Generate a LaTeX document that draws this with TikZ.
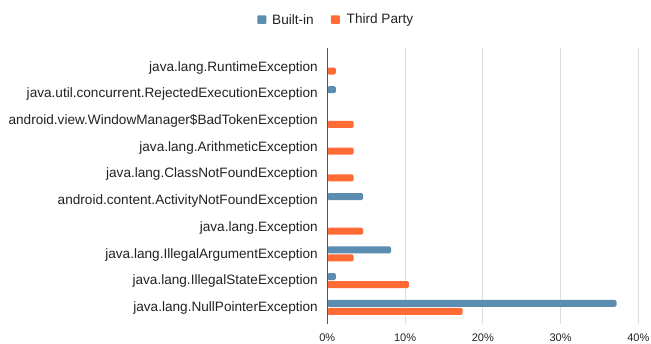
\documentclass[tikz,border=0pt]{standalone}
\usepackage{fontspec}
\setmainfont{Liberation Sans}
\definecolor{builtin}{HTML}{5B8DB0}
\definecolor{third}{HTML}{FF6B35}
\definecolor{gridc}{HTML}{DDDDDD}
\definecolor{axisc}{HTML}{555555}
\definecolor{txt}{HTML}{222222}
\tikzset{
  gridline/.style={draw=gridc, line width=1pt},
  axisline/.style={draw=axisc, line width=1pt},
  catlabel/.style={anchor=east, inner sep=0pt, text=txt, font=\fontsize{13.6}{16}\selectfont},
  ticklabel/.style={anchor=center, inner sep=0pt, text=txt, font=\fontsize{11}{13}\selectfont},
  legendlabel/.style={anchor=west, inner sep=0pt, text=txt, font=\fontsize{13.6}{16}\selectfont},
  barB/.style={fill=builtin, rounded corners=1.5pt},
  barT/.style={fill=third, rounded corners=1.5pt},
}
\begin{document}
\begin{tikzpicture}[x=1pt,y=-1pt]
\useasboundingbox (0,0) rectangle (651,343);
\fill[white] (0,0) rectangle (651,343);
% grid lines
\foreach \p in {1,2,3,4}
  \draw[gridline] ({327.3+77.75*\p},48) -- ({327.3+77.75*\p},324);
% tick labels
\foreach \p/\t in {0/0\%,1/10\%,2/20\%,3/30\%,4/40\%}
  \node[ticklabel] (tick\p) at ({327.3+77.75*\p},338) {\t};
% bars and category labels
\foreach \i/\lab/\b/\t in {
  0/java.lang.RuntimeException/0/1.1,
  1/java.util.concurrent.RejectedExecutionException/1.1/0,
  2/android.view.WindowManager\$BadTokenException/0/3.4,
  3/java.lang.ArithmeticException/0/3.4,
  4/java.lang.ClassNotFoundException/0/3.4,
  5/android.content.ActivityNotFoundException/4.6/0,
  6/java.lang.Exception/0/4.6,
  7/java.lang.IllegalArgumentException/8.2/3.4,
  8/java.lang.IllegalStateException/1.1/10.5,
  9/java.lang.NullPointerException/37.2/17.4}{
  \pgfmathsetmacro\c{67+26.7*\i}
  \node[catlabel] (cat\i) at (318,\c+0.6) {\lab};
  \ifdim\b pt>0pt
    \fill[barB] (327.3,\c-7.5) rectangle ({327.3+7.775*\b},\c-0.5);
  \fi
  \ifdim\t pt>0pt
    \fill[barT] (327.3,\c+0.5) rectangle ({327.3+7.775*\t},\c+7.5);
  \fi
}
% axis line
\coordinate (axtop) at (327.3,48);
\coordinate (axbot) at (327.3,324);
\draw[axisline] (axtop) -- (axbot);
% legend
\fill[builtin, rounded corners=0.8pt] (257.3,15.3) rectangle (266.3,23.8);
\node[legendlabel] (legB) at (272,19.5) {Built-in};
\fill[third, rounded corners=0.8pt] (330.8,15.3) rectangle (339.8,23.8);
\node[legendlabel] (legT) at (346.5,19.5) {Third Party};
\end{tikzpicture}
\end{document}
